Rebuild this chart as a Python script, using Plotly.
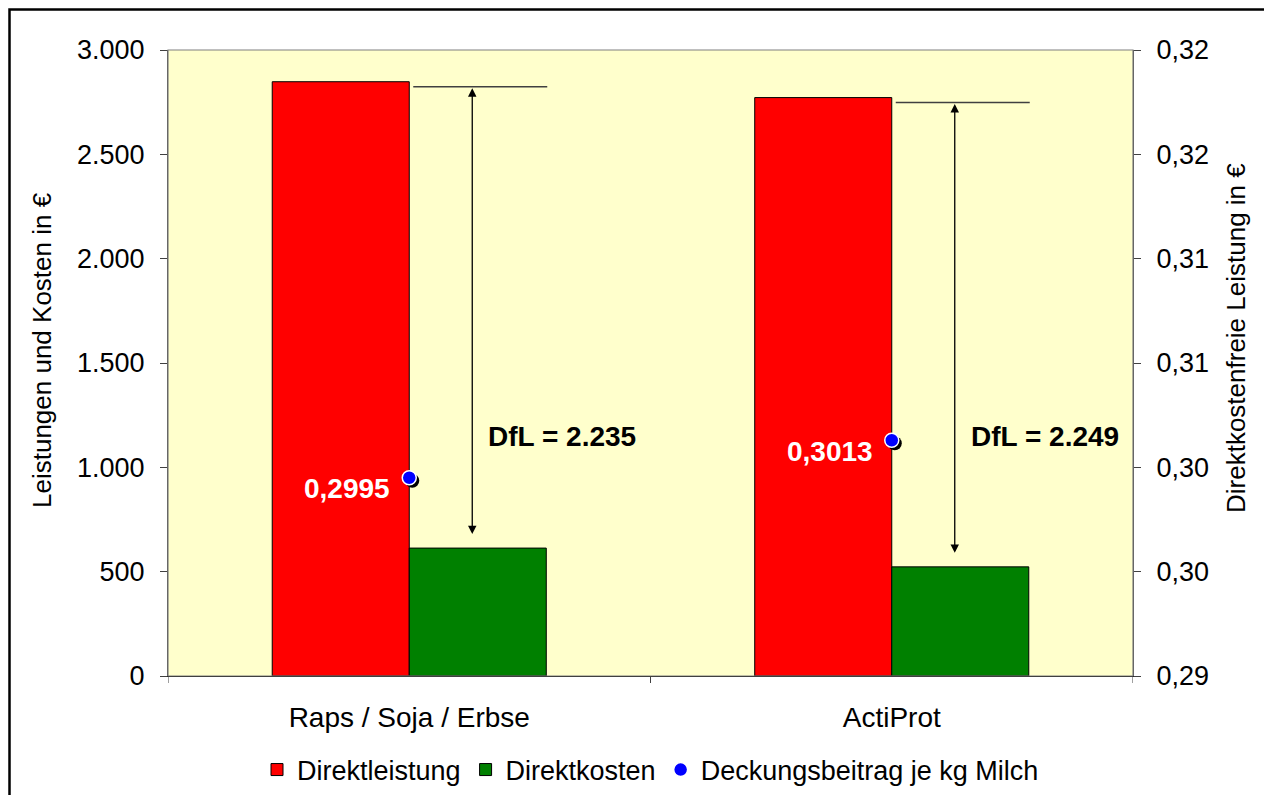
import plotly.graph_objects as go

categories = ["Raps / Soja / Erbse", "ActiProt"]
direktleistung = [2848, 2772]
direktkosten = [613, 523]
deckungsbeitrag = [0.2995, 0.3013]
dfl_values = [2235, 2249]

left_ticks = [0, 500, 1000, 1500, 2000, 2500, 3000]
right_tickvals = [0.29, 0.295, 0.30, 0.305, 0.31, 0.315, 0.32]
right_ticktext = ["0,29", "0,30", "0,30", "0,31", "0,31", "0,32", "0,32"]

left_title = "Leistungen und Kosten in €"
right_title = "Direktkostenfreie Leistung in €"

FONT = "Liberation Sans, Arial, sans-serif"
FS = 27
idx = list(range(len(categories)))

# geometry (pixels)
L, R, T, B = 160, 139, 42, 119
W, H = 1264, 787
PLOT_W, PLOT_H = W - L - R, H - T - B
SH = 3  # shadow offset px
dx = SH / (PLOT_W / len(categories))
dy = SH * (0.32 - 0.29) / PLOT_H

fig = go.Figure()
fig.add_trace(go.Bar(x=idx, y=direktleistung, name="Direktleistung",
                     marker=dict(color="#FF0000", line=dict(color="black", width=1))))
fig.add_trace(go.Bar(x=idx, y=direktkosten, name="Direktkosten",
                     marker=dict(color="#008000", line=dict(color="black", width=1))))
# shadow of the points
fig.add_trace(go.Scatter(x=idx, y=deckungsbeitrag, mode="markers", xaxis="x2", yaxis="y3",
                         showlegend=False, hoverinfo="skip",
                         marker=dict(color="black", size=14, line=dict(width=0))))
fig.add_trace(go.Scatter(x=idx, y=deckungsbeitrag, mode="markers", xaxis="x3", yaxis="y4",
                         name="Deckungsbeitrag je kg Milch",
                         marker=dict(color="#0000FF", size=14, line=dict(color="white", width=1.5))))

annotations = []
shapes = []
for i in idx:
    annotations.append(dict(x=i, y=deckungsbeitrag[i], xref="x", yref="y2",
                            text=f"{deckungsbeitrag[i]:.4f}".replace(".", ","),
                            showarrow=False, xanchor="right", yanchor="middle",
                            xshift=-17, yshift=-11,
                            font=dict(family=FONT, size=28, color="white", weight="bold")))
    annotations.append(dict(x=i, y=1150, xref="x", yref="y",
                            text=f"DfL = {dfl_values[i]:,}".replace(",", "."),
                            showarrow=False, xanchor="left", yanchor="middle", xshift=77,
                            font=dict(family=FONT, size=28, color="black", weight="bold")))
    annotations.append(dict(x=i, y=direktkosten[i], xref="x", yref="y",
                            ax=i, ay=direktleistung[i], axref="x", ayref="y",
                            text="", showarrow=True, arrowside="end+start",
                            arrowhead=2, arrowsize=1.3, arrowwidth=1.3, arrowcolor="black",
                            standoff=14, startstandoff=5, xshift=63))
    shapes.append(dict(type="line", xref="x", yref="y", xsizemode="pixel", ysizemode="pixel",
                       xanchor=i, yanchor=direktleistung[i], x0=4, x1=138, y0=-5, y1=-5,
                       line=dict(color="#404040", width=1.5)))

# axis titles
annotations.append(dict(text=left_title, textangle=-90, showarrow=False,
                        xref="paper", yref="paper", x=(42 - 168) / PLOT_W, y=(676 - 350) / PLOT_H,
                        xanchor="center", yanchor="middle", font=dict(size=26)))
annotations.append(dict(text=right_title, textangle=-90, showarrow=False,
                        xref="paper", yref="paper", x=(1236 - 168) / PLOT_W, y=(676 - 338) / PLOT_H,
                        xanchor="center", yanchor="middle", font=dict(size=26)))

# plot-area border
shapes.append(dict(type="rect", xref="paper", yref="paper", x0=0, x1=1, y0=0, y1=1,
                   line=dict(color="#808080", width=1.2), layer="above"))
# outer frame
shapes.append(dict(type="rect", xref="paper", yref="paper",
                   x0=(-L + 1.5) / PLOT_W, x1=1.3, y0=-0.4, y1=1 + (T - 1.5) / PLOT_H,
                   line=dict(color="black", width=2.5)))
# x-axis tick marks at category boundaries
for b in [-0.5, 0.5, 1.5]:
    shapes.append(dict(type="line", xref="x", yref="paper", x0=b, x1=b,
                       ysizemode="pixel", yanchor=0, y0=-7, y1=0,
                       line=dict(color="#404040", width=1)))

hidden = dict(visible=False, showgrid=False, zeroline=False)
fig.update_layout(
    width=W, height=H,
    margin=dict(l=L, r=R, t=T, b=B, autoexpand=False),
    paper_bgcolor="white", plot_bgcolor="#FFFFCC",
    separators=",.",
    barmode="group", bargap=0.432, bargroupgap=0,
    font=dict(family=FONT, size=FS, color="black"),
    xaxis=dict(tickmode="array", tickvals=idx, ticktext=categories, range=[-0.5, 1.5],
               showgrid=False, showline=True, linecolor="black", linewidth=1,
               ticks="outside", ticklen=16, tickcolor="rgba(0,0,0,0)", zeroline=False,
               tickfont=dict(size=28)),
    xaxis2=dict(overlaying="x", range=[-0.5 - dx, 1.5 - dx], **hidden),
    xaxis3=dict(overlaying="x", range=[-0.5, 1.5], **hidden),
    yaxis=dict(range=[0, 3000], tickvals=left_ticks, tickformat=",d", showgrid=False,
               showline=True, linecolor="#404040", linewidth=1, ticks="outside", ticklen=7,
               tickcolor="#404040", zeroline=False, ticklabelstandoff=10),
    yaxis2=dict(overlaying="y", side="right", range=[0.29, 0.32], tickvals=right_tickvals,
                ticktext=right_ticktext, showgrid=False, showline=True, linecolor="#404040",
                linewidth=1, ticks="outside", ticklen=7, tickcolor="#404040", zeroline=False,
                ticklabelstandoff=10),
    yaxis3=dict(overlaying="y", range=[0.29 + dy, 0.32 + dy], **hidden),
    yaxis4=dict(overlaying="y", range=[0.29, 0.32], **hidden),
    legend=dict(orientation="h", x=0.5, xanchor="center", y=-(94 / PLOT_H), yanchor="middle",
                font=dict(size=FS), itemwidth=30, tracegroupgap=0, bgcolor="rgba(0,0,0,0)"),
    annotations=annotations, shapes=shapes, showlegend=True,
)

fig.write_html("out.html")
